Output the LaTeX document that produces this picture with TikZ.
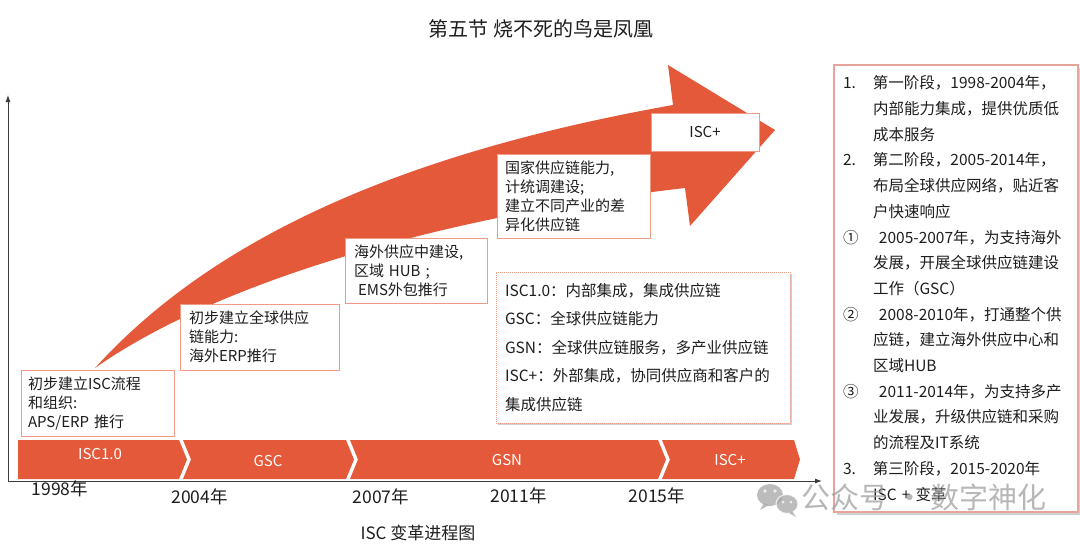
\documentclass[tikz,border=0pt]{standalone}
\usepackage{fontspec}
\setmainfont{Noto Sans CJK SC}
\usetikzlibrary{arrows.meta}
\definecolor{arrowred}{HTML}{E4593A}
\definecolor{boxline}{HTML}{F19A85}
\definecolor{boxlineG}{HTML}{E8A49A}
\definecolor{axisgray}{HTML}{3C3C3C}
\definecolor{txt}{HTML}{1E1E1E}
\newcommand\gitem[2]{\makebox[30pt][l]{#1}#2}
\newcommand\gcont[1]{\hspace*{30pt}#1}
\begin{document}
\begin{tikzpicture}[x=1pt,y=-1pt,
  note/.style={draw=boxline, line width=1pt, fill=white, inner sep=0pt, align=left, text=txt,
    font=\fontsize{15}{19}\selectfont},
  seg/.style={fill=arrowred},
  seglabel/.style={text=white, font=\fontsize{15}{15}\selectfont, inner sep=0pt},
  year/.style={text=txt, font=\fontsize{17.5}{17.5}\selectfont, inner sep=0pt},
  axis/.style={draw=axisgray, line width=0.9pt, -{Latex[length=7pt,width=5pt]}}]
\useasboundingbox (0,0) rectangle (1080,547);
\fill[white] (0,0) rectangle (1080,547);

% title
\node[text=txt, font=\fontsize{20}{20}\selectfont] (title) at (541,29) {第五节 烧不死的鸟是凤凰};

% axes
\coordinate (origin) at (8,481);
\coordinate (ytop) at (8,95);
\coordinate (xend) at (822,481);
\draw[axis] (origin) -- (ytop);
\draw[axis] (origin) -- (xend);

% big curved arrow
\fill[arrowred] (95,368) .. controls (220,230) and (420,150) .. (673,105)
  -- (668,65) -- (775,130) -- (690,226) -- (685,188)
  .. controls (450,215) and (220,280) .. (95,368) -- cycle;

% timeline segments
\fill[seg] (18,440) -- (179,440) -- (187,459.5) -- (179,479) -- (18,479) -- cycle;
\fill[seg] (183,440) -- (346,440) -- (354,459.5) -- (346,479) -- (183,479) -- (191,459.5) -- cycle;
\fill[seg] (350,440) -- (658,440) -- (666,459.5) -- (658,479) -- (350,479) -- (358,459.5) -- cycle;
\fill[seg] (662,440) -- (794,440) -- (800,459.5) -- (794,479) -- (662,479) -- (670,459.5) -- cycle;
\node[seglabel] (s1) at (100,454) {ISC1.0};
\node[seglabel] (s2) at (268,461) {GSC};
\node[seglabel] (s3) at (507,460) {GSN};
\node[seglabel] (s4) at (730,460) {ISC+};

% years
\node[year] (y1998) at (60,489) {1998年};
\node[year] (y2004) at (199.5,497) {2004年};
\node[year] (y2007) at (381,497) {2007年};
\node[year] (y2011) at (518.5,496) {2011年};
\node[year] (y2015) at (657,496) {2015年};

% caption
\node[text=txt, font=\fontsize{17}{17}\selectfont] (caption) at (418,533) {ISC 变革进程图};

% stage boxes
\node[note, minimum width=153pt, minimum height=66pt, text width=139pt] (boxA) at (97.5,403)
  {初步建立ISC流程\\和组织:\\APS/ERP 推行};
\node[note, minimum width=159pt, minimum height=66pt, text width=141pt] (boxB) at (259.5,337)
  {初步建立全球供应\\链能力:\\海外ERP推行};
\node[note, minimum width=142pt, minimum height=65pt, text width=124pt] (boxC) at (416,270.5)
  {海外供应中建设,\\区域 HUB ;\\\hspace*{4pt}EMS外包推行};
\node[note, minimum width=153pt, minimum height=84pt, text width=137pt] (boxD) at (573.5,196)
  {国家供应链能力,\\计统调建设;\\建立不同产业的差\\异化供应链};
\node[note, align=center, minimum width=108pt, minimum height=38pt] (boxE) at (705,132) {ISC+};

% legend box
\fill[black!30, opacity=0.6] (498,274) rectangle (792,425);
\node[note, densely dotted, minimum width=294pt, minimum height=151pt, text width=276pt,
  font=\fontsize{15.5}{28.5}\selectfont] (boxF) at (643,347.5)
  {ISC1.0：内部集成，集成供应链\\GSC：全球供应链能力\\GSN：全球供应链服务，多产业供应链\\ISC+：外部集成，协同供应商和客户的\\集成供应链};

% right description box
\fill[black!30, opacity=0.6] (837,68) rectangle (1081,515);
\node[note, draw=boxlineG, line width=1.3pt, minimum width=244pt, minimum height=447pt, text width=226pt,
  font=\fontsize{15.5}{25.7}\selectfont] (boxG) at (956,288.5)
  {\gitem{1.}{第一阶段，1998-2004年，}\\
   \gcont{内部能力集成，提供优质低}\\
   \gcont{成本服务}\\
   \gitem{2.}{第二阶段，2005-2014年，}\\
   \gcont{布局全球供应网络，贴近客}\\
   \gcont{户快速响应}\\
   \gitem{①}{\hspace*{6pt}2005-2007年，为支持海外}\\
   \gcont{发展，开展全球供应链建设}\\
   \gcont{工作（GSC）}\\
   \gitem{②}{\hspace*{6pt}2008-2010年，打通整个供}\\
   \gcont{应链，建立海外供应中心和}\\
   \gcont{区域HUB}\\
   \gitem{③}{\hspace*{6pt}2011-2014年，为支持多产}\\
   \gcont{业发展，升级供应链和采购}\\
   \gcont{的流程及IT系统}\\
   \gitem{3.}{第三阶段，2015-2020年}\\
   \gcont{ISC + 变革}};

% watermark
\begin{scope}[opacity=0.75]
\fill[gray!70] (770,495) ellipse (13 and 11);
\fill[gray!70] (764,503) -- (760,510) -- (769,505) -- cycle;
\fill[gray!70, draw=white, line width=1.2pt] (787,504) ellipse (11 and 9.5);
\fill[gray!70] (792,511) -- (796,517) -- (789,513) -- cycle;
\fill[white] (765,491) circle (1.8) (775,491) circle (1.8) (783,502) circle (1.5) (791,502) circle (1.5);
\node[text=gray!75, font=\fontsize{29}{29}\selectfont, inner sep=0pt] (wm) at (924,497) {公众号 · 数字神化};
\end{scope}
\end{tikzpicture}
\end{document}
